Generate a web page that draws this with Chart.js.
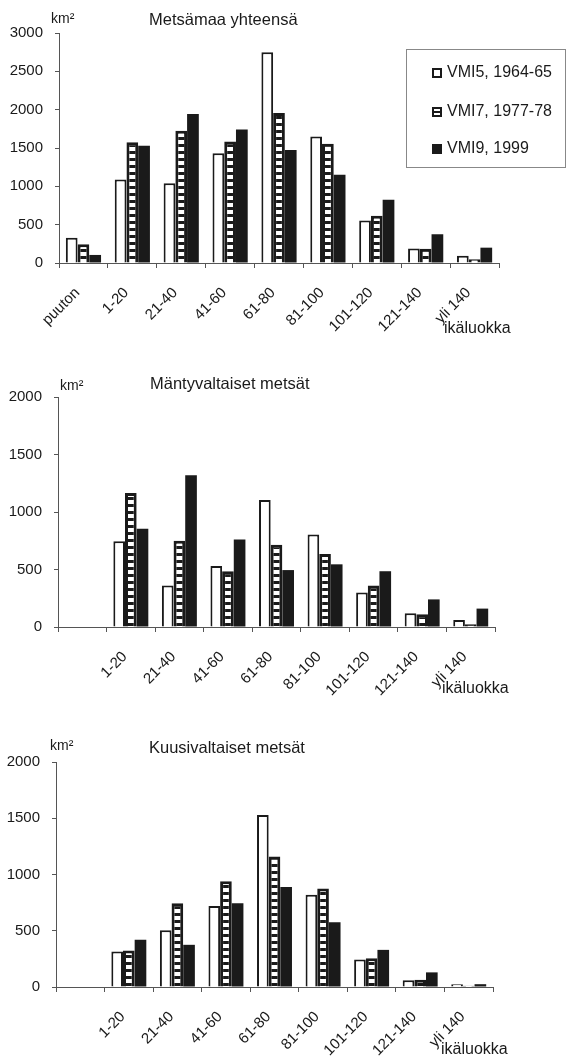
<!DOCTYPE html>
<html>
<head>
<meta charset="utf-8">
<script src="https://cdn.jsdelivr.net/npm/chart.js@4/dist/chart.umd.min.js"></script>
<style>
	body {
		margin: 0;
		width: 570px;
		height: 1059px;
		position: relative;
		overflow: hidden;
		background: #fff;
		color: #1a1a1a;
		font-family: 'Liberation Sans', Arial, sans-serif;
	}
	canvas { position: absolute; left: 0; }
	.txt {
		position: absolute;
		white-space: nowrap;
		line-height: 1;
		transform: translateY(-50%);
	}
	.title { font-size: 16.5px; }
	.unit { font-size: 14px; }
	.xname { font-size: 16px; }
	.legend {
		position: absolute;
		left: 406px;
		top: 49px;
		width: 160px;
		height: 119px;
		border: 1px solid #888;
		box-sizing: border-box;
		font-size: 16px;
	}
	.legend div { position: absolute; left: 25px; line-height: 1; transform: translateY(-50%); white-space: nowrap; }
	.legend i {
		display: inline-block;
		width: 10px;
		height: 10px;
		box-sizing: border-box;
		margin-right: 5px;
		vertical-align: -1px;
	}
	.sw5 { border: 2px solid #1a1a1a; background: #fff; }
	.sw7 { border: 2px solid #1a1a1a; background: linear-gradient(#fff 0 35%, #1a1a1a 35% 65%, #fff 65%); }
	.sw9 { background: #1a1a1a; }
</style>
</head>
<body>

<canvas id="chartTotal" width="570" height="350" style="top:0"></canvas>
<canvas id="chartPine" width="570" height="345" style="top:360px"></canvas>
<canvas id="chartSpruce" width="570" height="339" style="top:720px"></canvas>

<div class="txt unit" style="left:51px;top:18px">km²</div>
<div class="txt title" style="left:149px;top:19px">Metsämaa yhteensä</div>
<div class="txt xname" style="left:444px;top:328px">ikäluokka</div>

<div class="txt unit" style="left:60px;top:385px">km²</div>
<div class="txt title" style="left:150px;top:383px">Mäntyvaltaiset metsät</div>
<div class="txt xname" style="left:442px;top:688px">ikäluokka</div>

<div class="txt unit" style="left:50px;top:745px">km²</div>
<div class="txt title" style="left:149px;top:747px">Kuusivaltaiset metsät</div>
<div class="txt xname" style="left:441px;top:1049px">ikäluokka</div>

<div class="legend">
	<div style="top:22px"><i class="sw5"></i>VMI5, 1964-65</div>
	<div style="top:61px"><i class="sw7"></i>VMI7, 1977-78</div>
	<div style="top:98px"><i class="sw9"></i>VMI9, 1999</div>
</div>

<script>
/* Data */
const ageClasses = ['puuton', '1-20', '21-40', '41-60', '61-80', '81-100', '101-120', '121-140', 'yli 140']
const ageClassesNoBare = ['', '1-20', '21-40', '41-60', '61-80', '81-100', '101-120', '121-140', 'yli 140']
const seriesNames = ['VMI5, 1964-65', 'VMI7, 1977-78', 'VMI9, 1999']

const totalVmi5 = [330, 1090, 1040, 1430, 2750, 1650, 555, 190, 95]
const totalVmi7 = [245, 1575, 1725, 1585, 1955, 1555, 615, 185, 50]
const totalVmi9 = [105, 1530, 1945, 1740, 1475, 1150, 825, 375, 200]

const pineVmi5 = [null, 745, 360, 530, 1105, 805, 300, 120, 60]
const pineVmi7 = [null, 1165, 750, 485, 715, 635, 360, 110, 25]
const pineVmi9 = [null, 855, 1320, 760, 495, 545, 485, 240, 160]

const spruceVmi5 = [null, 315, 505, 720, 1530, 820, 245, 60, 25]
const spruceVmi7 = [null, 325, 745, 940, 1160, 875, 255, 65, 12]
const spruceVmi9 = [null, 420, 375, 745, 890, 575, 330, 130, 25]

const yTicksTotal = [0, 500, 1000, 1500, 2000, 2500, 3000]
const yTicksPart = [0, 500, 1000, 1500, 2000]

/* Ladder fill for the middle series */
function ladder() {
	let c = document.createElement('canvas')
	c.width = 8
	c.height = 7
	let g = c.getContext('2d')
	g.fillStyle = '#fff'
	g.fillRect(0, 0, 8, 7)
	g.fillStyle = '#1a1a1a'
	g.fillRect(0, 4, 8, 3)
	return g.createPattern(c, 'repeat')
}

const ink = '#1a1a1a'
const axisColor = '#555'
const font = { family: "'Liberation Sans', Arial, sans-serif", size: 15 }

function makeChart(id, labels, s5, s7, s9, yTicks, box) {
	const canvas = document.getElementById(id)
	return new Chart(canvas, {
		type: 'bar',
		data: {
			labels: labels,
			datasets: [
				{ label: seriesNames[0], data: s5, backgroundColor: '#fff', borderColor: ink, borderWidth: 2 },
				{ label: seriesNames[1], data: s7, backgroundColor: ladder(), borderColor: ink, borderWidth: 3 },
				{ label: seriesNames[2], data: s9, backgroundColor: ink, borderColor: ink, borderWidth: 0 },
			],
		},
		options: {
			responsive: false,
			animation: false,
			datasets: {
				bar: { categoryPercentage: 0.72, barPercentage: 1, borderSkipped: 'bottom' },
			},
			layout: {
				padding: { left: 0, right: 570 - box.right, top: box.top, bottom: 0 },
			},
			plugins: {
				legend: { display: false },
				tooltip: { enabled: false },
			},
			scales: {
				x: {
					grid: { offset: true, drawOnChartArea: false, tickLength: 5, color: axisColor },
					border: { color: axisColor },
					ticks: { minRotation: 45, maxRotation: 45, color: ink, font: font, padding: 16, labelOffset: -6 },
					afterFit: function (s) {
						s.height = canvas.height - box.bottom
					},
				},
				y: {
					min: yTicks[0],
					max: yTicks[yTicks.length - 1],
					afterBuildTicks: function (s) {
						s.ticks = yTicks.map(v => ({ value: v }))
					},
					grid: { drawOnChartArea: false, tickLength: 4, color: axisColor },
					border: { color: axisColor },
					ticks: {
						color: ink,
						font: font,
						padding: 12,
						callback: v => String(v),
					},
					afterFit: function (s) {
						s.width = box.left
					},
				},
			},
		},
	})
}

makeChart('chartTotal', ageClasses, totalVmi5, totalVmi7, totalVmi9, yTicksTotal,
	{ left: 59, right: 499, top: 33, bottom: 263 })
makeChart('chartPine', ageClassesNoBare, pineVmi5, pineVmi7, pineVmi9, yTicksPart,
	{ left: 58, right: 495, top: 37, bottom: 267 })
makeChart('chartSpruce', ageClassesNoBare, spruceVmi5, spruceVmi7, spruceVmi9, yTicksPart,
	{ left: 56, right: 493, top: 42, bottom: 267 })
</script>
</body>
</html>
